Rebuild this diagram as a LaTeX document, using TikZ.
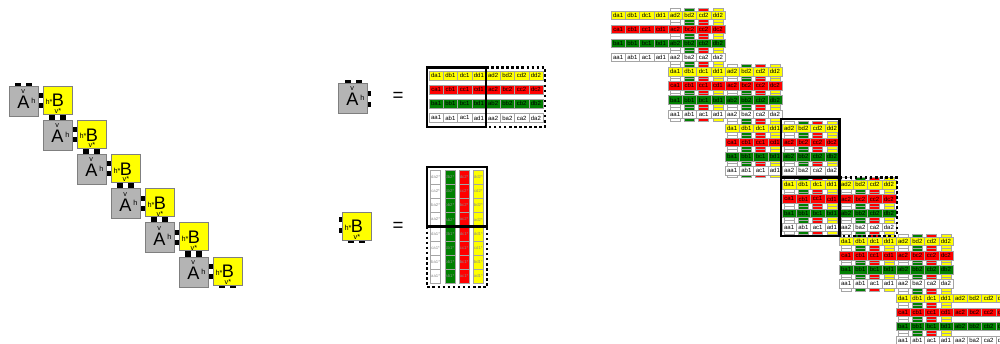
\documentclass[tikz,border=0pt]{standalone}
\usepackage{fontspec}
\setmainfont{Liberation Sans}
\definecolor{cy}{HTML}{FFFF00}
\definecolor{cr}{HTML}{FF0000}
\definecolor{cg}{HTML}{008000}
\definecolor{boxgray}{HTML}{B4B4B4}
\definecolor{edge}{HTML}{7F7F7F}
\def\cw{14.25}
\def\rp{14.15}
\def\rhh{8.5}
\def\bw{10}
\tikzset{
 cell/.style={draw=edge!70, line width=0.35pt},
 celltext/.style={font=\fontsize{4.5}{4.5}\selectfont, inner sep=0pt},
 btext/.style={font=\fontsize{3.2}{3.2}\selectfont, inner sep=0pt, text=black!45},
 abox/.style={draw=edge, fill=boxgray, line width=0.5pt},
 bbox/.style={draw=edge, fill=cy, line width=0.5pt},
 tab/.style={fill=black, draw=none},
 bigl/.style={font=\fontsize{13.6}{14}\selectfont, inner sep=0pt},
 smalll/.style={font=\fontsize{5.5}{6}\selectfont, inner sep=0pt},
 solidframe/.style={draw=black, line width=1.9pt},
 dotframe/.style={draw=black, line width=1.9pt, dash pattern=on 1.9pt off 1.9pt},
 eqsign/.style={font=\fontsize{14}{14}\selectfont, inner sep=0pt},
}
% rows of an A matrix: #1 x left, #2 y centre of first row, #3 id
\newcommand\Arows[3]{%
 \foreach \ri/\rl/\fc in {0/d/cy,1/c/cr,2/b/cg,3/a/white}{%
  \foreach \ci/\cl in {0/a,1/b,2/c,3/d}{%
   \path[cell,fill=\fc] ({#1+\ci*\cw},{#2+\ri*\rp-\rhh/2}) rectangle ++(\cw,\rhh);
   \path[cell,fill=\fc] ({#1+(\ci+4)*\cw},{#2+\ri*\rp-\rhh/2}) rectangle ++(\cw,\rhh);
   \node[celltext] (r#3-\ri-\ci) at ({#1+(\ci+0.5)*\cw},{#2+\ri*\rp}) {\rl\cl1};
   \node[celltext] (s#3-\ri-\ci) at ({#1+(\ci+4.5)*\cw},{#2+\ri*\rp}) {\cl\rl2};
  }}}
% columns of a B matrix: #1 x left of first slot, #2 y top, #3 text flag
\newcommand\Bcols[3]{%
 \foreach \ci/\cl/\fc in {0/a/white,1/b/cg,2/c/cr,3/d/cy}{%
  \foreach \ri/\rl/\hh in {0/d/2,1/c/2,2/b/2,3/a/2,4/d/1,5/c/1,6/b/1,7/a/1}{%
   \path[cell,fill=\fc] ({#1+\ci*\cw+(\cw-\bw)/2},{#2+\ri*\rp}) rectangle ++(\bw,\rp);
   \ifnum#3=1
    \node[btext] (bt-\ri-\ci) at ({#1+(\ci+0.5)*\cw},{#2+(\ri+0.5)*\rp}) {\rl\cl\hh*};
   \fi
  }}}
% A icon: #1 x, #2 y, #3 name
\newcommand\Aicon[3]{%
 \draw[abox] (#1,#2) rectangle ++(29.5,30);
 \node[smalll] (#3v) at ({#1+14.3},{#2+5.5}) {v};
 \node[bigl] (#3A) at ({#1+14.3},{#2+16.3}) {A};
 \node[smalll] (#3h) at ({#1+24.5},{#2+14.5}) {h};
}
\newcommand\Bicon[3]{%
 \draw[bbox] (#1,#2) rectangle ++(29,28);
 \node[smalll] (#3h) at ({#1+6},{#2+16}) {h*};
 \node[bigl] (#3B) at ({#1+15},{#2+14.6}) {B};
 \node[smalll] (#3v) at ({#1+15},{#2+25}) {v*};
}
\begin{document}
\begin{tikzpicture}[x=0.75pt,y=-0.75pt]
\useasboundingbox (0,0) rectangle (1000,343);
\clip (0,0) rectangle (1000,343);

% ---------------- left chain ----------------
\foreach \k in {0,...,5}{
 \pgfmathsetmacro\ax{9+34*\k}
 \pgfmathsetmacro\ay{86+34.2*\k}
 \pgfmathsetmacro\bx{\ax+34}
 % tabs
 \fill[tab] ({\ax+5.5},{\ay-3.1}) rectangle ({\ax+11.5},\ay);
 \fill[tab] ({\ax+16.5},{\ay-3.1}) rectangle ({\ax+22.5},\ay);
 \fill[tab] ({\ax+29},{\ay+7}) rectangle ({\bx},{\ay+12});
 \fill[tab] ({\ax+29},{\ay+17}) rectangle ({\bx},{\ay+22});
 \fill[tab] ({\bx+5.5},{\ay+28}) rectangle ({\bx+11.5},{\ay+31.1});
 \fill[tab] ({\bx+16.5},{\ay+28}) rectangle ({\bx+22.5},{\ay+31.1});
 \Aicon{\ax}{\ay}{a\k}
 \Bicon{\bx}{\ay}{b\k}
}

% ---------------- middle: A ----------------
\fill[tab] (345,80) rectangle (351,83);
\fill[tab] (356,80) rectangle (362,83);
\fill[tab] (367,91) rectangle (371,96);
\fill[tab] (367,102) rectangle (371,107);
\Aicon{338}{83}{ma}
\node[eqsign] (eqA) at (398,97) {=};
\Arows{429}{75.5}{m}
\draw[solidframe] (427,67.5) rectangle (486,127);
\draw[dotframe] (486,67.5) -- (545,67.5) -- (545,127) -- (486,127);

% ---------------- middle: B ----------------
\fill[tab] (338.5,217) rectangle (342,222);
\fill[tab] (338.5,228) rectangle (342,233);
\fill[tab] (348,240) rectangle (354,243);
\fill[tab] (359,240) rectangle (365,243);
\Bicon{342}{212}{mb}
\node[eqsign] (eqB) at (398,227) {=};
\Bcols{428.5}{170}{1}
\draw[solidframe] (427,167) rectangle (487,226.6);
\draw[dotframe] (427,226.6) -- (427,287) -- (487,287) -- (487,226.6);

% ---------------- right: product chain ----------------
\foreach \k in {0,...,4}{
 \Bcols{611+(4*\k+4)*\cw}{15+4*\k*\rp-\rp/2}{0}
}
\foreach \k in {0,...,5}{
 \Arows{611+4*\k*\cw}{15+4*\k*\rp}{\k}
}
\draw[solidframe] (781,119) rectangle (839.5,235.8);
\draw[solidframe] (781,177.7) -- (839.5,177.7);
\draw[dotframe] (839.5,177.7) -- (897,177.7) -- (897,235.8) -- (839.5,235.8);
\end{tikzpicture}
\end{document}
